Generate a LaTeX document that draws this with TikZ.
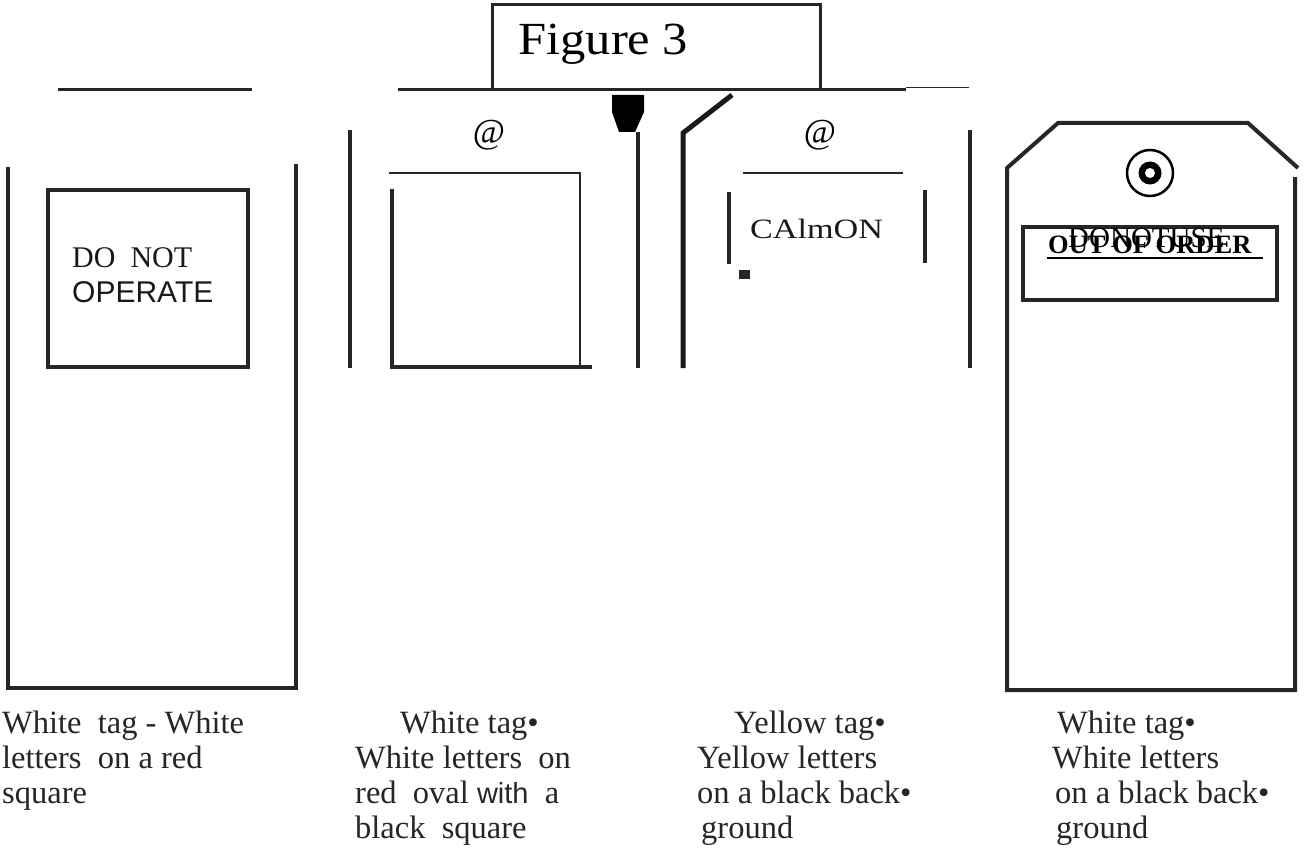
\documentclass[tikz,border=0pt]{standalone}
\usepackage{fontspec}
\setmainfont{Liberation Serif}
\newfontfamily\sansfam{Liberation Sans}
\begin{document}
\begin{tikzpicture}[x=1pt,y=-1pt,
  edge/.style={line width=4pt, draw=black!85},
  thinline/.style={line width=1.3pt, draw=black!85},
  rule/.style={line width=3pt, draw=black!85},
  caption/.style={anchor=north west, align=left, inner sep=0pt,
    font=\fontsize{32.5}{35}\selectfont, text=black!85},
  atsign/.style={font=\fontsize{35}{35}\selectfont, inner sep=0pt},
  label/.style={font=\fontsize{30}{30}\selectfont, inner sep=0pt, text=black!90}]
\useasboundingbox (0,0) rectangle (1304,848);

% title box sitting on the top rule
\draw[rule] (398,90) -- (906,90);
\draw[line width=1pt, draw=black!85] (906,88) -- (969,88);
\draw[rule] (492,90) -- (492,5) -- (820,5) -- (820,90);
\node[font=\fontsize{46}{46}\selectfont, inner sep=0pt, anchor=base west] (fig) at (518,55)
  {\scalebox{1.1}[1]{Figure 3}};

% tag 1: DO NOT OPERATE
\draw[rule] (58,90) -- (252,90);
\draw[edge] (8,167) -- (8,688) -- (296,688) -- (296,164);
\draw[edge] (48,190) rectangle (248,367);
\node[label, anchor=base west] (donot) at (72,267) {DO\ \ NOT};
\node[label, anchor=base west, font=\sansfam\fontsize{30}{30}\selectfont] (operate) at (72,302) {OPERATE};

% tag 2
\draw[edge] (350,130) -- (350,368);
\draw[edge] (638,132) -- (638,368);
\node[atsign] (at1) at (489,135) {@};
\draw[thinline] (389,173) -- (580,173) -- (580,367);
\draw[edge] (392,189) -- (392,367) -- (592,367);
\fill[black] (612,95) -- (644,95) -- (644,112) -- (635,132) -- (619,132) -- (612,112) -- cycle;

% tag 3: caution
\draw[line width=5pt, draw=black!90] (732,95) -- (683,133) -- (683,368);
\draw[edge] (970,130) -- (970,368);
\node[atsign] (at2) at (820,135) {@};
\draw[thinline] (743,173) -- (903,173);
\draw[edge] (729,192) -- (729,264);
\draw[edge] (925,190) -- (925,263);
\node[label, anchor=base west, font=\fontsize{28}{28}\selectfont] (caution) at (750,238)
  {\scalebox{1.22}[1]{CAlmON}};
\fill[black!85] (739,270) rectangle (750,279);

% tag 4: out of order, with eyelet
\draw[edge, line join=miter] (1295,177) -- (1295,690) -- (1007,690) -- (1007,168)
  -- (1058,123) -- (1248,123) -- (1298,168);
\draw[line width=2.5pt] (1150,173) circle (23);
\fill[black] (1150,173) circle (11.5);
\fill[white] (1150,173) circle (5);
\draw[edge] (1023,227) rectangle (1277,300);
\node[font=\fontsize{29}{29}\selectfont, inner sep=0pt, anchor=base west] (dnu) at (1068,247) {DONOTUSE};
\node[font=\bfseries\fontsize{26.5}{26.5}\selectfont, inner sep=0pt, anchor=base west] (ooo) at (1048,253) {OUT OF ORDER};
\draw[line width=1.5pt] (1047,258) -- (1263,258);

% captions
\node[caption] (c1) at (2,711) {White\ \ tag - White\\letters\ \ on a red\\square};
\node[caption] (c2) at (355,711) {\hspace*{45pt}White tag•\\White letters\ \ on\\red\ \ oval {\sansfam\fontsize{29}{35}\selectfont with}\ \ a\\black\ \ square};
\node[caption] (c3) at (697,711) {\hspace*{37pt}Yellow tag•\\Yellow letters\\on a black back•\\\hspace*{4pt}ground};
\node[caption] (c4) at (1052,711) {\hspace*{5pt}White tag•\\White letters\\\hspace*{3pt}on a black back•\\\hspace*{4pt}ground};
\end{tikzpicture}
\end{document}
